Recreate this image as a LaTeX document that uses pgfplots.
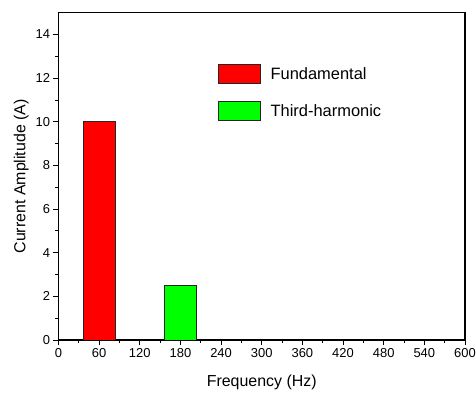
\documentclass[border=0pt]{standalone}
\usepackage{pgfplots}
\pgfplotsset{compat=1.18}
\usepackage{fontspec}
\setmainfont{Liberation Sans}
\begin{document}
\begin{tikzpicture}
\begin{axis}[
 scale only axis, width=406.5bp, height=327.3bp,
 xmin=0, xmax=600, ymin=0, ymax=15,
 xtick={0,60,...,600}, ytick={0,2,...,14},
 minor x tick num=1, minor y tick num=1,
 tick align=outside, xtick pos=bottom, ytick pos=left,
 major tick length=5bp, minor tick length=3bp,
 tick style={black, line width=0.8bp},
 axis line style={line width=1.2bp},
 ticklabel style={font=\fontsize{13}{15}\selectfont},
 /pgf/number format/assume math mode=true,
 xlabel={Frequency (Hz)}, ylabel={Current Amplitude (A)},
 label style={font=\fontsize{16}{19}\selectfont},
 xlabel style={yshift=-10bp},
 ybar, bar width=48, bar shift=0pt,
 legend image code/.code={\draw[#1] (0bp,-9.5bp) rectangle (42bp,9.5bp);},
 legend cell align=left,
 legend style={draw=none, fill=none, at={(0.392,0.843)}, anchor=north west,
   inner xsep=0pt, inner ysep=0pt, row sep=17.5bp,
   font=\fontsize{16.5}{19}\selectfont,
   /tikz/every odd column/.append style={column sep=8bp}},
]
\addplot[fill=red, draw=black!85, line width=0.6bp] coordinates {(60,10)};
\addplot[fill=green, draw=black!85, line width=0.6bp] coordinates {(180,2.5)};
\legend{Fundamental, Third-harmonic}
\end{axis}
\pgfresetboundingbox
\path (-58.5bp,-54bp) rectangle (417.5bp,340bp);
\end{tikzpicture}
\end{document}
